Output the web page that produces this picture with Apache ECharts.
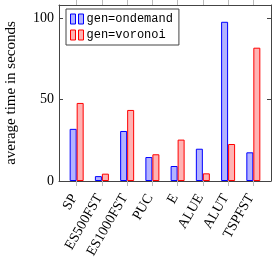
<!DOCTYPE html>
<html><head><meta charset="utf-8">
<script src="https://cdn.jsdelivr.net/npm/echarts@6/dist/echarts.min.js"></script>
<style>html,body{margin:0;padding:0;background:#fff}#c{width:273px;height:262px}</style>
</head><body><div id="c"></div>
<script>
var categories = ['SP','ES500FST','ES1000FST','PUC','E','ALUE','ALUT','TSPFST'];
var ondemand = [32, 3, 30.7, 14.7, 9.2, 19.8, 97.7, 17.6];
var voronoi = [47.9, 4.5, 43.6, 16.4, 25.4, 4.7, 22.7, 81.8];
var yTicks = [0, 50, 100];
var idx = categories.map(function(_, i){ return i; });

var chart = echarts.init(document.getElementById('c'), null, {renderer:'canvas'});
var serif = 'Liberation Serif';
var frame = '#444';
function pts(arr){ return arr.map(function(v,i){ return [i, v]; }); }
var icon = 'path://M0,2h5v10h-5z M8,2h5v10h-5z';
chart.setOption({
  animation:false,
  grid:{left:59, right:2, top:5, bottom:81, containLabel:false, outerBoundsMode:'none'},
  legend:{
    orient:'vertical', left:66, top:9, padding:[4,6,4,4], itemGap:4,
    itemWidth:13, itemHeight:11,
    borderColor:frame, borderWidth:1, backgroundColor:'#fff',
    textStyle:{fontFamily:'Liberation Mono', fontSize:12, color:'#000', padding:[0,0,0,-2]},
    data:[
      {name:'gen=ondemand', icon:icon, itemStyle:{color:'rgb(179,179,255)', borderColor:'#0000ff', borderWidth:1}},
      {name:'gen=voronoi', icon:icon, itemStyle:{color:'rgb(255,179,179)', borderColor:'#ff0000', borderWidth:1}}
    ]
  },
  xAxis:[{
    type:'value', min:-0.7, max:7.7, position:'bottom',
    splitLine:{show:false},
    axisLine:{show:true, onZero:false, lineStyle:{color:frame, width:1}},
    axisTick:{show:true, inside:false, length:5, customValues:idx, lineStyle:{color:'#bbb'}},
    axisLabel:{customValues:idx, rotate:60, margin:10, padding:[0,5,0,0], fontFamily:serif, fontSize:14, color:'#000',
      formatter:function(v){ return categories[Math.round(v)] || ''; }}
  },{
    type:'value', min:-0.7, max:7.7, position:'top',
    splitLine:{show:false},
    axisLine:{show:true, onZero:false, lineStyle:{color:frame, width:1}},
    axisTick:{show:true, inside:false, length:5, customValues:idx, lineStyle:{color:'#bbb'}},
    axisLabel:{show:false}
  }],
  yAxis:[{
    type:'value', min:0, max:108, position:'left',
    name:'average time in seconds', nameLocation:'middle', nameGap:40,
    nameTextStyle:{fontFamily:serif, fontSize:15, color:'#000'},
    splitLine:{show:false},
    axisLine:{show:true, onZero:false, lineStyle:{color:frame, width:1}},
    axisTick:{show:true, inside:true, length:4, customValues:yTicks, lineStyle:{color:frame}},
    axisLabel:{customValues:yTicks, margin:5, fontFamily:serif, fontSize:14, color:'#000'}
  },{
    type:'value', min:0, max:108, position:'right',
    splitLine:{show:false},
    axisLine:{show:true, onZero:false, lineStyle:{color:frame, width:1}},
    axisTick:{show:true, inside:true, length:4, customValues:yTicks, lineStyle:{color:frame}},
    axisLabel:{show:false}
  }],
  series:[
    {name:'gen=ondemand', type:'bar', xAxisIndex:0, yAxisIndex:0, barWidth:7, barGap:'0%',
     itemStyle:{color:'rgb(179,179,255)', borderColor:'#0000ff', borderWidth:1}, data:pts(ondemand)},
    {name:'gen=voronoi', type:'bar', xAxisIndex:0, yAxisIndex:0, barWidth:7, barGap:'0%',
     itemStyle:{color:'rgb(255,179,179)', borderColor:'#ff0000', borderWidth:1}, data:pts(voronoi)}
  ]
});
</script></body></html>
